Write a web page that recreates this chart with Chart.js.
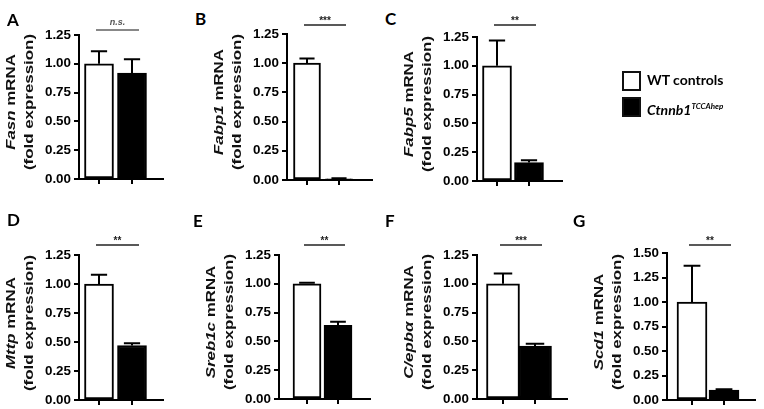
<!DOCTYPE html>
<html>
<head>
<meta charset="utf-8">
<script src="https://cdn.jsdelivr.net/npm/chart.js@4.4.1/dist/chart.umd.min.js"></script>
<style>
  body { margin: 0; background: #fff; }
  #fig { position: relative; width: 764px; height: 409px; overflow: hidden; }
  canvas { position: absolute; }
  .letter { position: absolute; font: bold 17px Lato, "Open Sans", sans-serif; color: #000; line-height: 17px; }
  .ytitle { position: absolute; width: 200px; height: 16px; line-height: 16px; text-align: center;
            font: bold 12px "Liberation Sans", Arial, sans-serif; color: #111; white-space: nowrap; }
  .lgbox { position: absolute; width: 15px; height: 16px; border: 2px solid #111; }
  .lgtext { position: absolute; font: bold 14px Lato, "Open Sans", sans-serif; color: #000; white-space: nowrap; line-height: 16px; }
</style>
</head>
<body>
<div id="fig"></div>
<script>
// panel data
const panelLetters = ['A', 'B', 'C', 'D', 'E', 'F', 'G'];
const genes = ['Fasn', 'Fabp1', 'Fabp5', 'Mttp', 'Sreb1c', 'C/epbα', 'Scd1'];
const wtMean = [1.00, 1.00, 1.00, 1.00, 1.00, 1.00, 1.00];
const wtErr = [0.11, 0.04, 0.22, 0.08, 0.01, 0.09, 0.37];
const koMean = [0.92, 0.01, 0.16, 0.47, 0.64, 0.46, 0.10];
const koErr = [0.12, 0.005, 0.02, 0.02, 0.03, 0.02, 0.01];
const yMax = [1.25, 1.25, 1.25, 1.25, 1.25, 1.25, 1.5];
const sigLabels = ['n.s.', '***', '**', '**', '**', '***', '**'];
const legendLabels = ['WT controls', 'Ctnnb1'];

// where each panel sits on the page (pixels)
const layout = [
  { x: 79,  top: 35,  bottom: 179, right: 163, t1: 99,  t2: 132, bw: 29, sig: 30,  lx: 7,   ly: 11 },
  { x: 287, top: 34,  bottom: 180, right: 372, t1: 307, t2: 339, bw: 27, sig: 25,  lx: 195, ly: 10 },
  { x: 477, top: 37,  bottom: 181, right: 562, t1: 497, t2: 529, bw: 29, sig: 25,  lx: 385, ly: 10 },
  { x: 79,  top: 255, bottom: 400, right: 163, t1: 99,  t2: 132, bw: 29, sig: 245, lx: 7,   ly: 211 },
  { x: 279, top: 255, bottom: 399, right: 370, t1: 307, t2: 338, bw: 28, sig: 245, lx: 193, ly: 212 },
  { x: 477, top: 255, bottom: 399, right: 567, t1: 503, t2: 535, bw: 33, sig: 245, lx: 385, ly: 212 },
  { x: 667, top: 253, bottom: 400, right: 755, t1: 692, t2: 724, bw: 30, sig: 245, lx: 573, ly: 212 }
];

const fig = document.getElementById('fig');
const meas = document.createElement('canvas').getContext('2d');

function textWidth(font, text) {
  meas.font = font;
  return meas.measureText(text).width;
}

// pick a tick font size so "1.25" is ~26px wide
const tickFamily = 'Liberation Sans, Arial, sans-serif';
const w20 = textWidth('bold 20px ' + tickFamily, '1.25');
const tickSize = (w20 > 0) ? Math.round(20 * 26 / w20 * 10) / 10 : 13;
const tickFont = { family: tickFamily, size: tickSize, weight: 'bold' };
// axis titles are stretched along the text to ~136px for "(fold expression)"
const titleStretch = 136 / textWidth('bold 12px "Liberation Sans", Arial, sans-serif', '(fold expression)');

function addDiv(cls, left, top, html) {
  const d = document.createElement('div');
  d.className = cls;
  d.style.left = left + 'px';
  d.style.top = top + 'px';
  d.innerHTML = html;
  fig.appendChild(d);
  return d;
}

function makePanel(i) {
  const L = layout[i];
  const padL = 78, padT = 45, padR = 6, padB = 14;
  const left = L.x - padL, top = L.top - padT;
  const w = L.right - left + padR, h = L.bottom - top + padB;

  const canvas = document.createElement('canvas');
  canvas.width = w;
  canvas.height = h;
  canvas.style.left = left + 'px';
  canvas.style.top = top + 'px';
  canvas.style.width = w + 'px';
  canvas.style.height = h + 'px';
  fig.appendChild(canvas);

  const unit = L.t2 - L.t1;
  const xmin = 1 - (L.t1 - L.x) / unit;
  const xmax = 2 + (L.right - L.t2) / unit;

  // error bars + significance bar
  const extras = {
    id: 'extras' + i,
    afterDatasetsDraw(chart) {
      const ctx = chart.ctx;
      const ys = chart.scales.y, xs = chart.scales.x;
      const means = [wtMean[i], koMean[i]];
      const errs = [wtErr[i], koErr[i]];
      ctx.save();
      ctx.strokeStyle = '#000';
      ctx.lineWidth = 2;
      means.forEach((m, k) => {
        const px = xs.getPixelForValue(k + 1);
        const y0 = ys.getPixelForValue(m);
        const y1 = ys.getPixelForValue(m + errs[k]);
        const cap = L.bw * 0.28;
        ctx.beginPath();
        ctx.moveTo(px, y0);
        ctx.lineTo(px, y1);
        ctx.moveTo(px - cap, y1);
        ctx.lineTo(px + cap, y1);
        ctx.stroke();
      });
      const sy = L.sig - top;
      const x1 = xs.getPixelForValue(1) - 3;
      const x2 = xs.getPixelForValue(2) + 7;
      ctx.strokeStyle = i === 0 ? '#888' : '#222';
      ctx.lineWidth = i === 0 ? 1.8 : 1.3;
      ctx.beginPath();
      ctx.moveTo(x1, sy);
      ctx.lineTo(x2, sy);
      ctx.stroke();
      ctx.fillStyle = i === 0 ? '#555' : '#222';
      ctx.textAlign = 'center';
      ctx.textBaseline = 'bottom';
      ctx.font = i === 0 ? 'italic bold 9px Liberation Sans, Arial' : 'bold 10px Liberation Sans, Arial';
      ctx.fillText(sigLabels[i], (x1 + x2) / 2, i === 0 ? sy - 3 : sy + 1);
      ctx.restore();
    }
  };

  new Chart(canvas.getContext('2d'), {
    type: 'bar',
    data: {
      datasets: [{
        data: [{ x: 1, y: wtMean[i] }, { x: 2, y: koMean[i] }],
        backgroundColor: ['#fff', '#000'],
        borderColor: '#000',
        borderWidth: 2,
        borderSkipped: false,
        barThickness: L.bw
      }]
    },
    options: {
      responsive: false,
      animation: false,
      layout: { padding: { top: padT, right: padR, left: 0, bottom: 0 } },
      plugins: { legend: { display: false }, tooltip: { enabled: false } },
      scales: {
        x: {
          type: 'linear',
          min: xmin,
          max: xmax,
          offset: false,
          afterBuildTicks: s => { s.ticks = [{ value: 1 }, { value: 2 }]; },
          afterFit: s => { s.height = padB; },
          ticks: { display: false },
          grid: { offset: false, drawOnChartArea: false, drawTicks: true, tickLength: 5, lineWidth: 2, color: '#000' },
          border: { color: '#000', width: 2 }
        },
        y: {
          min: 0,
          max: yMax[i],
          afterFit: s => { s.width = padL; },
          ticks: { stepSize: 0.25, padding: 3, color: '#000', font: tickFont, callback: v => v.toFixed(2) },
          grid: { drawOnChartArea: false, drawTicks: true, tickLength: 5, lineWidth: 2, color: '#000' },
          border: { color: '#000', width: 2 }
        }
      }
    },
    plugins: [extras]
  });

  // panel letter and axis titles
  addDiv('letter', L.lx, L.ly, panelLetters[i]);
  const cy = (L.top + L.bottom) / 2 - 5;
  const tf = 'rotate(-90deg) scaleX(' + titleStretch.toFixed(3) + ')';
  addDiv('ytitle', L.x - 67 - 100, cy - 8, '<i>' + genes[i] + '</i> mRNA').style.transform = tf;
  addDiv('ytitle', L.x - 49 - 100, cy - 8, '(fold expression)').style.transform = tf;
}

for (let i = 0; i < genes.length; i++) makePanel(i);

// legend
const b1 = addDiv('lgbox', 622, 71, '');
b1.style.background = '#fff';
const b2 = addDiv('lgbox', 622, 97, '');
b2.style.background = '#000';
addDiv('lgtext', 647, 72, legendLabels[0]);
addDiv('lgtext', 647, 98, '<i>' + legendLabels[1] + '</i><sup style="font-size:8px;font-style:italic;vertical-align:6px;">TCCAhep</sup>');
</script>
</body>
</html>
